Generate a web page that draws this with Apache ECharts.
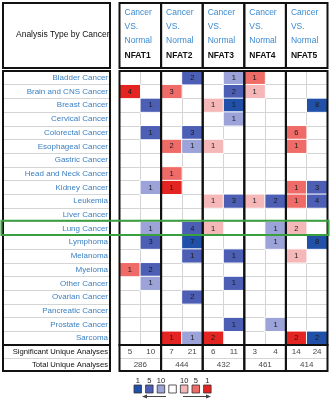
<!DOCTYPE html>
<html><head><meta charset="utf-8">
<script src="https://cdn.jsdelivr.net/npm/echarts@6/dist/echarts.min.js"></script>
<style>html,body{margin:0;padding:0;background:#fff}#c{width:330px;height:400px}</style>
</head><body><div id="c"></div>
<script>
const cancers = ['Bladder Cancer','Brain and CNS Cancer','Breast Cancer','Cervical Cancer','Colorectal Cancer','Esophageal Cancer','Gastric Cancer','Head and Neck Cancer','Kidney Cancer','Leukemia','Liver Cancer','Lung Cancer','Lymphoma','Melanoma','Myeloma','Other Cancer','Ovarian Cancer','Pancreatic Cancer','Prostate Cancer','Sarcoma'];
const genes = ['NFAT1','NFAT2','NFAT3','NFAT4','NFAT5'];
const headerLines = ['Cancer','VS.','Normal'];
const headerTitle = 'Analysis Type by Cancer';
// [cancer index, direction (0 = over, 1 = under), number of analyses, best rank top %]
const nfat1Cells = [[1,0,4,1],[2,1,1,5],[4,1,1,5],[8,1,1,10],[11,1,1,10],[12,1,3,5],[14,0,1,5],[14,1,2,5],[15,1,1,10]];
const nfat2Cells = [[0,1,2,5],[1,0,3,5],[4,1,3,5],[5,0,2,5],[5,1,1,10],[7,0,1,5],[8,0,1,1],[11,1,4,5],[12,1,7,1],[13,1,1,5],[16,1,2,5],[19,0,1,1],[19,1,1,10]];
const nfat3Cells = [[0,1,1,10],[1,1,2,5],[2,0,1,10],[2,1,1,1],[3,1,1,10],[5,0,1,10],[9,0,1,10],[9,1,3,5],[11,0,1,10],[13,1,1,5],[15,1,1,5],[18,1,1,5],[19,0,2,1]];
const nfat4Cells = [[0,0,1,5],[1,0,1,10],[9,0,1,10],[9,1,2,5],[11,1,1,10],[12,1,1,10],[18,1,1,10]];
const nfat5Cells = [[2,1,8,1],[4,0,6,5],[5,0,1,5],[8,0,1,5],[8,1,3,5],[9,0,1,5],[9,1,4,5],[11,0,2,10],[12,1,8,1],[13,0,1,10],[19,0,2,1],[19,1,2,1]];
const geneCells = [nfat1Cells, nfat2Cells, nfat3Cells, nfat4Cells, nfat5Cells];
const sigOver = [5,7,6,3,14];
const sigUnder = [10,21,11,4,24];
const totalAnalyses = [286,444,432,461,414];
const summaryLabels = ['Significant Unique Analyses','Total Unique Analyses'];
const rankLevels = [1,5,10];
const highlightCancer = 'Lung Cancer';

const overColors = {1:'#e32420',5:'#ee6b68',10:'#f5b7b7'};
const underColors = {1:'#2150a9',5:'#4d5fb5',10:'#9ba3d9'};
const FONT = '"Liberation Sans", Arial, sans-serif';
const L = {top:71, height:274, labelLeft:3, labelW:107, geneLeft:119.5, geneW:41.6, headTop:3, headH:65, sumTop:345, sumH:26};
const rowH = L.height / cancers.length;

const grid = [], xAxis = [], yAxis = [], series = [];
const hidden = {axisLine:{show:false}, axisTick:{show:false}, axisLabel:{show:false}};
const gray = {show:true, interval:0, lineStyle:{color:'#d4d4d4', width:1}};

genes.forEach((g, i) => {
  grid.push({left:L.geneLeft + i*L.geneW, top:L.top, width:L.geneW, height:L.height, show:true, borderWidth:0, backgroundColor:'#fff'});
  xAxis.push(Object.assign({gridIndex:i, type:'category', data:['over','under'], splitLine:gray}, hidden));
  yAxis.push(Object.assign({gridIndex:i, type:'category', data:cancers, inverse:true, splitLine:gray}, hidden));
  series.push({
    type:'heatmap', xAxisIndex:i, yAxisIndex:i,
    data: geneCells[i].map(c => [c[1], c[0], c[2], c[1] === 0 ? c[3] : -c[3]]),
    label:{show:true, formatter:p => p.value[2], fontSize:7.5, color:'#1a1a1a', fontFamily:FONT},
    itemStyle:{borderColor:'#fff', borderWidth:1}
  });
});
// label panel
grid.push({left:L.labelLeft, top:L.top, width:L.labelW, height:L.height, show:true, borderWidth:0, backgroundColor:'#fff'});
xAxis.push(Object.assign({gridIndex:5, type:'value', splitLine:{show:false}}, hidden));
yAxis.push({gridIndex:5, type:'category', data:cancers, inverse:true, position:'right', axisLine:{show:false}, axisTick:{show:false},
  axisLabel:{inside:true, margin:2, fontSize:8, color:'#3a7fc1', fontFamily:FONT, interval:0}, splitLine:gray});
// summary grids
genes.forEach((g, i) => {
  const gi = 6 + i;
  grid.push({left:L.geneLeft + i*L.geneW, top:L.sumTop, width:L.geneW, height:L.sumH, show:true, borderWidth:0, backgroundColor:'#fff'});
  xAxis.push(Object.assign({gridIndex:gi, type:'value', min:0, max:2, splitLine:{show:false}}, hidden));
  yAxis.push(Object.assign({gridIndex:gi, type:'category', data:summaryLabels, inverse:true, splitLine:gray}, hidden));
  series.push({
    type:'scatter', xAxisIndex:gi, yAxisIndex:gi, symbolSize:1, itemStyle:{color:'rgba(0,0,0,0)'},
    data:[[0.5,0,sigOver[i]],[1.5,0,sigUnder[i]],[1,1,totalAnalyses[i]]],
    label:{show:true, position:'inside', formatter:p => p.value[2], fontSize:8, color:'#111', fontFamily:FONT}
  });
});
grid.push({left:L.labelLeft, top:L.sumTop, width:L.labelW, height:L.sumH, show:true, borderWidth:0, backgroundColor:'#fff'});
xAxis.push(Object.assign({gridIndex:11, type:'value', splitLine:{show:false}}, hidden));
yAxis.push({gridIndex:11, type:'category', data:summaryLabels, inverse:true, position:'right', axisLine:{show:false}, axisTick:{show:false},
  axisLabel:{inside:true, margin:2, fontSize:7.7, color:'#111', fontFamily:FONT, interval:0}, splitLine:gray});

// frames, header, highlight, legend
const graphic = [];
const frame = (x, y, w, h, color, lw) => graphic.push({type:'rect', z:100, shape:{x, y, width:w, height:h}, style:{fill:'none', stroke:color || '#111', lineWidth:lw || 2}});
const txt = (x, y, text, font, fill, align) => graphic.push({type:'text', z:101, x, y, style:{text, font, fill, textAlign:align || 'left', align:align || 'left', textVerticalAlign:'middle', verticalAlign:'middle'}});
frame(L.labelLeft, L.headTop, L.labelW, L.headH);
txt(16, 35, headerTitle, '8.5px ' + FONT, '#111');
frame(L.labelLeft, L.top, L.labelW, L.height);
frame(L.labelLeft, L.sumTop, L.labelW, L.sumH);
genes.forEach((g, i) => {
  const x = L.geneLeft + i*L.geneW;
  frame(x, L.headTop, L.geneW, L.headH);
  frame(x, L.top, L.geneW, L.height);
  frame(x, L.sumTop, L.geneW, L.sumH);
  headerLines.forEach((t, k) => txt(x + 5, 13 + k*14, t, '8.5px ' + FONT, '#3c8ad0'));
  txt(x + 5, 55.5, g, 'bold 8.5px ' + FONT, '#111');
});
const hi = cancers.indexOf(highlightCancer);
graphic.push({type:'rect', z:102, shape:{x:1.5, y:L.top + hi*rowH - 1, width:327, height:rowH + 0.5}, style:{fill:'none', stroke:'#3a9f3f', lineWidth:2}});
// legend
const legendColors = [underColors[1], underColors[5], underColors[10], '#ffffff', overColors[10], overColors[5], overColors[1]];
const legendLabels = [rankLevels[0], rankLevels[1], rankLevels[2], '', rankLevels[2], rankLevels[1], rankLevels[0]];
legendColors.forEach((c, k) => {
  const x = 134 + k*11.6;
  graphic.push({type:'rect', z:100, shape:{x, y:385, width:7.5, height:8}, style:{fill:c, stroke:'#333', lineWidth:0.8}});
  if (legendLabels[k] !== '') txt(x + 3.75, 380.5, String(legendLabels[k]), '7.5px ' + FONT, '#222', 'center');
});
graphic.push({type:'polyline', z:100, shape:{points:[[146,396.5],[166,396.5]]}, style:{stroke:'#444', lineWidth:1}});
graphic.push({type:'polygon', z:100, shape:{points:[[142,396.5],[147,394.5],[147,398.5]]}, style:{fill:'#444'}});
graphic.push({type:'polyline', z:100, shape:{points:[[183,396.5],[207,396.5]]}, style:{stroke:'#444', lineWidth:1}});
graphic.push({type:'polygon', z:100, shape:{points:[[211,396.5],[206,394.5],[206,398.5]]}, style:{fill:'#444'}});

const chart = echarts.init(document.getElementById('c'), null, {renderer:'canvas'});
chart.setOption({
  animation:false,
  backgroundColor:'#fff',
  grid, xAxis, yAxis, series, graphic,
  visualMap:{type:'piecewise', show:false, dimension:3, seriesIndex:[0,1,2,3,4],
    pieces:[
      {value:1, color:overColors[1]},{value:5, color:overColors[5]},{value:10, color:overColors[10]},
      {value:-1, color:underColors[1]},{value:-5, color:underColors[5]},{value:-10, color:underColors[10]}
    ]}
});
</script></body></html>
